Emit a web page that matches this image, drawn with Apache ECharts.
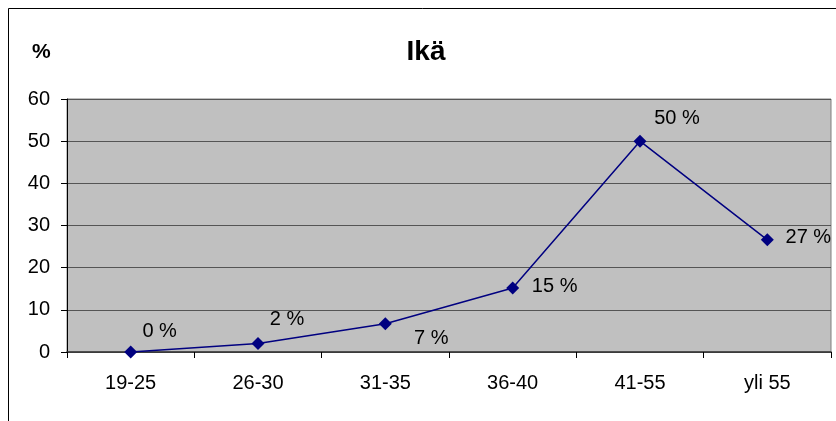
<!DOCTYPE html>
<html>
<head>
<meta charset="utf-8">
<script src="https://cdn.jsdelivr.net/npm/echarts@6/dist/echarts.min.js"></script>
<style>
html,body{margin:0;padding:0;background:#fff;}
#chart{width:836px;height:421px;}
</style>
</head>
<body>
<div id="chart"></div>
<script>
var categories = ['19-25', '26-30', '31-35', '36-40', '41-55', 'yli 55'];
var values = [0, 2.0, 6.7, 15.2, 50, 26.6];
var valueLabels = ['0 %', '2 %', '7 %', '15 %', '50 %', '27 %'];
var yTicks = [0, 10, 20, 30, 40, 50, 60];

// label placement (styling, not data)
var labelOffsets = [[29, -21], [29, -24], [46, 15], [42, -1], [37, -23], [41, -2]];

var FONT = '"Liberation Sans", Arial, sans-serif';

var chart = echarts.init(document.getElementById('chart'));
var seriesData = values.map(function (v, i) {
  return {
    value: v,
    label: {
      show: true,
      position: 'inside',
      offset: labelOffsets[i],
      formatter: valueLabels[i],
      align: 'center',
      verticalAlign: 'middle',
      fontSize: 20,
      fontFamily: FONT,
      color: '#000'
    }
  };
});

chart.setOption({
  animation: false,
  backgroundColor: '#fff',
  title: {
    text: 'Ikä',
    left: 421,
    top: 33,
    textAlign: 'center',
    textStyle: { fontFamily: FONT, fontSize: 28, fontWeight: 'bold', color: '#000' }
  },
  graphic: [
    { type: 'rect', shape: { x: 8.5, y: 8.5, width: 900, height: 600 }, style: { fill: 'none', stroke: '#000', lineWidth: 1 }, silent: true },
    { type: 'text', left: 32, top: 42, style: { text: '%', fontFamily: FONT, fontSize: 21, fontWeight: 'bold', fill: '#000' } }
  ],
  grid: {
    left: 67, right: 5, top: 99, bottom: 69,
    show: true, backgroundColor: '#c0c0c0', borderColor: '#808080', borderWidth: 1
  },
  xAxis: {
    type: 'category',
    data: categories,
    boundaryGap: true,
    axisLine: { show: true, lineStyle: { color: '#333', width: 1.5 } },
    axisTick: { show: true, inside: false, length: 6, alignWithLabel: false, lineStyle: { color: '#000' } },
    axisLabel: { fontFamily: FONT, fontSize: 20, color: '#000', margin: 21 },
    splitLine: { show: false }
  },
  yAxis: {
    type: 'value',
    min: yTicks[0], max: yTicks[yTicks.length - 1], interval: 10,
    axisLine: { show: true, lineStyle: { color: '#000', width: 1 } },
    axisTick: { show: true, length: 6, lineStyle: { color: '#000' } },
    axisLabel: { fontFamily: FONT, fontSize: 20, color: '#000', margin: 17 },
    splitLine: { show: true, lineStyle: { color: '#555', width: 1 } }
  },
  series: [{
    type: 'line',
    data: seriesData,
    symbol: 'diamond',
    symbolSize: 13,
    itemStyle: { color: '#000080' },
    lineStyle: { color: '#000080', width: 1.5 }
  }]
});
</script>
</body>
</html>
